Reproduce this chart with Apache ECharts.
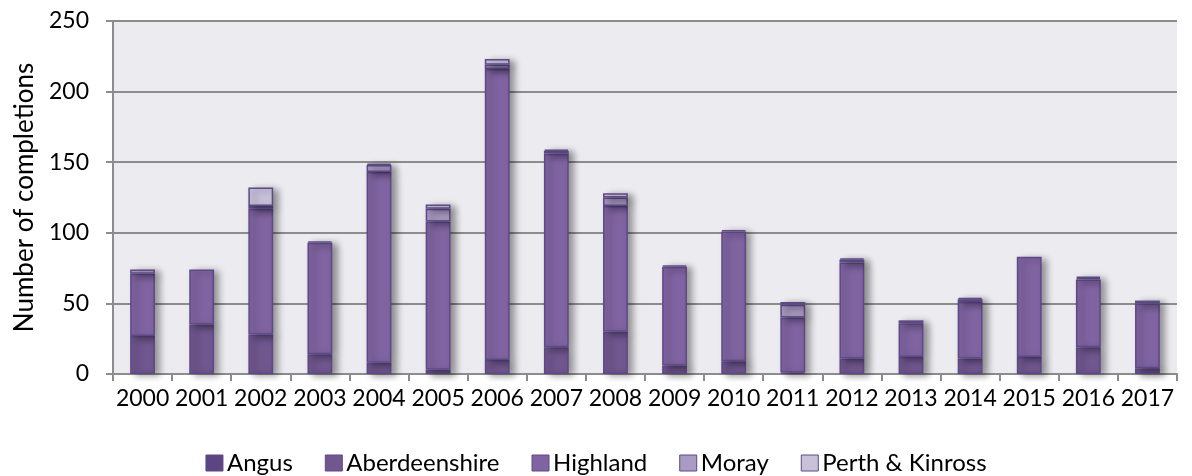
<!DOCTYPE html>
<html>
<head>
<meta charset="utf-8">
<script src="https://cdn.jsdelivr.net/npm/echarts@6/dist/echarts.min.js"></script>
<style>
  html, body { margin: 0; padding: 0; background: #fff; }
  #chart { width: 1192px; height: 476px; }
</style>
</head>
<body>
<div id="chart"></div>
<script>
var years = ['2000','2001','2002','2003','2004','2005','2006','2007','2008','2009','2010','2011','2012','2013','2014','2015','2016','2017'];
var angus = [0,0,0,0,0,0,0,0,0,0,0,0,0,0,0,0,0,0];
var aberdeenshire = [27,35,28,14,8,3,10,19,30,6,9,1,11,12,11,12,19,4];
var highland = [44,39,89,79,135,105,206,137,89,70,92,39,68,24,40,71,48,46];
var moray = [3,0,2,1,5,9,3,2,6,1,1,9,2,2,2,0,1,2];
var perth = [0,0,13,0,1,3,4,1,3,0,0,2,1,0,1,0,1,0];
var yTicks = [0, 50, 100, 150, 200, 250];

var myChart = echarts.init(document.getElementById('chart'));
var font = 'Lato';

function makeSeries(name, data, color) {
    return {
        name: name,
        type: 'bar',
        stack: 'total',
        barWidth: '42%',
        // zero values are left out so they draw no border line
        data: data.map(function (v) { return v === 0 ? '-' : v; }),
        itemStyle: {
            color: color,
            borderColor: '#5e4986',
            borderWidth: 1.5,
            shadowColor: 'rgba(0,0,0,0.4)',
            shadowBlur: 7,
            shadowOffsetX: 5,
            shadowOffsetY: 2
        }
    };
}

var option = {
    animation: false,
    textStyle: { fontFamily: font },
    grid: {
        left: 113,
        right: 15,
        top: 21,
        bottom: 102,
        containLabel: false,
        show: true,
        backgroundColor: '#ecebf0',
        borderWidth: 0
    },
    legend: {
        top: 446,
        left: 'center',
        icon: 'rect',
        itemWidth: 17,
        itemHeight: 16,
        itemGap: 32,
        textStyle: { fontFamily: font, fontSize: 24, color: '#000', padding: [0, 0, 0, -1] },
        itemStyle: { borderColor: '#5e4986', borderWidth: 1 },
        data: ['Angus', 'Aberdeenshire', 'Highland', 'Moray', 'Perth & Kinross']
    },
    xAxis: {
        type: 'category',
        data: years,
        axisLine: { lineStyle: { color: '#8c8c8c', width: 2 } },
        axisTick: { show: true, length: 7, lineStyle: { color: '#8c8c8c', width: 2 } },
        axisLabel: { color: '#000', fontSize: 23, fontFamily: font, margin: 13, interval: 0 }
    },
    yAxis: {
        type: 'value',
        min: yTicks[0],
        max: yTicks[yTicks.length - 1],
        interval: 50,
        name: 'Number of completions',
        nameLocation: 'middle',
        nameGap: 73,
        nameTextStyle: { color: '#000', fontSize: 26, fontFamily: font },
        axisLine: { show: true, lineStyle: { color: '#8c8c8c', width: 2 } },
        axisTick: { show: true, length: 7, lineStyle: { color: '#8c8c8c', width: 2 } },
        axisLabel: { color: '#000', fontSize: 23, fontFamily: font, margin: 24 },
        splitLine: { lineStyle: { color: '#8c8c8c', width: 2 } }
    },
    series: [
        makeSeries('Angus', angus, '#5c4580'),
        makeSeries('Aberdeenshire', aberdeenshire, '#70578f'),
        makeSeries('Highland', highland, '#8064a2'),
        makeSeries('Moray', moray, '#a99bc2'),
        makeSeries('Perth & Kinross', perth, '#c9c0da')
    ]
};

myChart.setOption(option);
</script>
</body>
</html>
